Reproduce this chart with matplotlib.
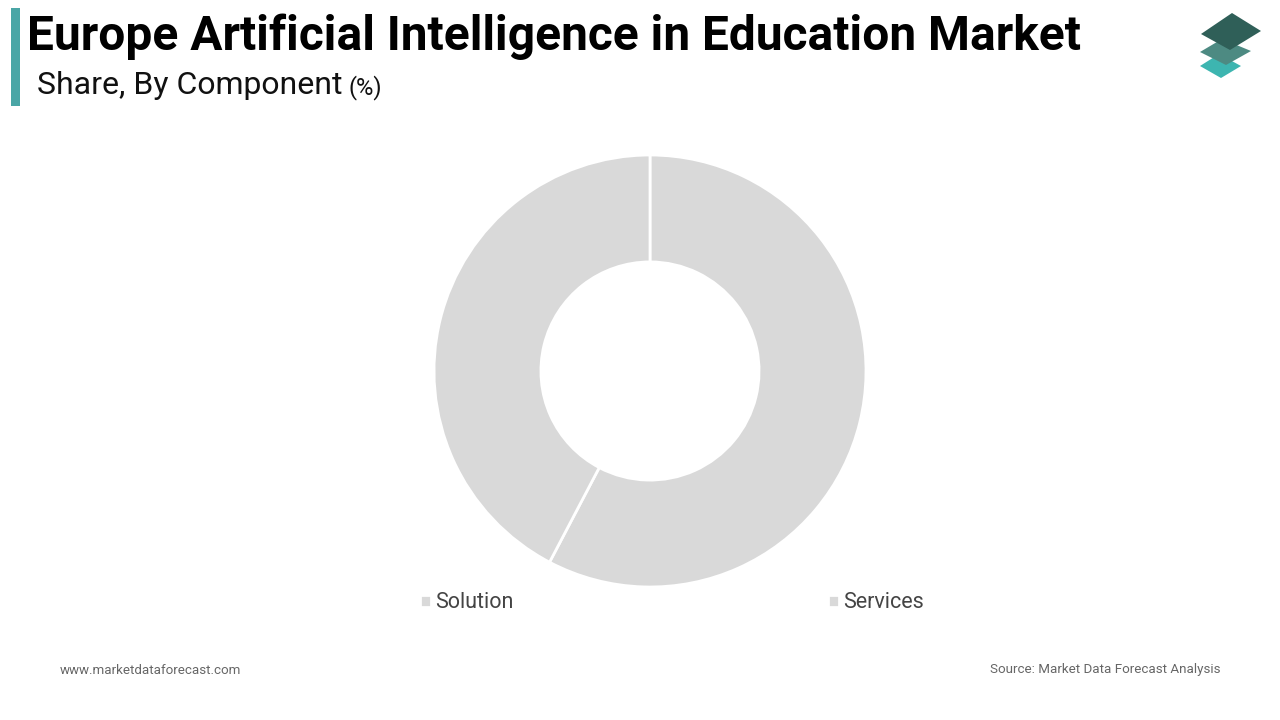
import matplotlib
matplotlib.use("Agg")
import matplotlib.pyplot as plt
from matplotlib.patches import Polygon, Rectangle

plt.rcParams['font.family'] = ['Roboto', 'DejaVu Sans']

# data
components = ['Solution', 'Services']
shares = [57.7, 42.3]
wedge_colors = ['#d9d9d9', '#d9d9d9']

title = 'Europe Artificial Intelligence in Education Market'
subtitle = 'Share, By Component'

W, H = 1280, 720
fig = plt.figure(figsize=(W / 100, H / 100), dpi=100)
fig.patch.set_facecolor('white')


def fx(x):
    return x / W


def fy(y):
    return 1 - y / H


# accent bar next to the title
fig.patches.append(Rectangle((fx(11), fy(106)), fx(9), 98 / H, transform=fig.transFigure,
                             facecolor='#4aa6a6', edgecolor='none'))
fig.text(fx(27), fy(37), title, fontsize=34.5, fontweight='bold', color='#000000', va='center')
fig.text(fx(37), fy(86), subtitle, fontsize=23, color='#111111', va='center')
fig.text(fx(349), fy(88), '(%)', fontsize=17, color='#111111', va='center')

# logo: three stacked tiles
tiles = [
    ([(1200, 66), (1219, 54), (1241, 66), (1221, 78)], '#3db5b0'),
    ([(1200, 52), (1222, 39), (1251, 51), (1226, 65)], '#4d8a82'),
    ([(1201, 34), (1232, 13), (1261, 31), (1230, 50)], '#2f5f58'),
]
for pts, c in tiles:
    fig.patches.append(Polygon([(fx(x), fy(y)) for x, y in pts], closed=True,
                               transform=fig.transFigure, facecolor=c, edgecolor='none'))

# donut
cx, cy, r = 650, 371, 216
ax = fig.add_axes([fx(cx - r), fy(cy + r), 2 * r / W, 2 * r / H])
wedges, _ = ax.pie(shares, colors=wedge_colors, startangle=90, counterclock=False,
                   radius=1, wedgeprops=dict(width=0.495, edgecolor='white', linewidth=2))
ax.set_xlim(-1, 1)
ax.set_ylim(-1, 1)
ax.set_aspect('equal')
ax.axis('off')

fig.legend(wedges, components, loc='center left', bbox_to_anchor=(fx(420), fy(603)),
           ncol=2, frameon=False, fontsize=15.5, labelcolor='#444444',
           handlelength=0.5, handleheight=0.5, handletextpad=0.2, columnspacing=14.6,
           borderpad=0, borderaxespad=0)

fig.text(fx(60), fy(670), 'www.marketdataforecast.com', fontsize=9.6, color='#666666', va='center')
fig.text(fx(1220), fy(670), 'Source: Market Data Forecast Analysis', fontsize=9.6, color='#666666',
         va='center', ha='right')

fig.savefig('out.png', dpi=100)
